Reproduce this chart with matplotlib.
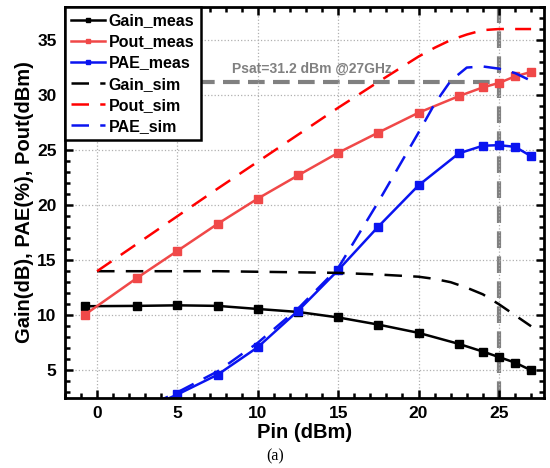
import matplotlib
matplotlib.use("Agg")
import matplotlib.pyplot as plt
from matplotlib.ticker import MultipleLocator

plt.rcParams["font.family"] = ["Liberation Sans", "DejaVu Sans"]
plt.rcParams["font.weight"] = "bold"

# measured data
pin_meas = [-0.75, 2.5, 5, 7.5, 10, 12.5, 15, 17.5, 20, 22.5, 24, 25, 26, 27]
gain_meas = [10.82, 10.85, 10.9, 10.85, 10.57, 10.3, 9.8, 9.15, 8.4, 7.4, 6.7, 6.2, 5.7, 5.0]
pout_meas = [10.06, 13.4, 15.85, 18.3, 20.6, 22.7, 24.76, 26.6, 28.4, 29.9, 30.7, 31.1, 31.7, 32.1]
pae_meas = [0.3, 1.2, 2.8, 4.6, 7.1, 10.4, 14.1, 18.06, 21.8, 24.7, 25.4, 25.45, 25.3, 24.45]

# simulated data
pin_sim = [0, 2.5, 5, 7.5, 10, 12.5, 15, 17.5, 20, 21, 22, 23, 24, 25, 26, 27]
gain_sim = [14.0, 14.0, 14.0, 14.0, 13.95, 13.9, 13.85, 13.7, 13.5, 13.3, 13.0, 12.5, 11.9, 11.0, 10.0, 9.0]
pout_sim = [14.0, 16.5, 19.0, 21.5, 23.95, 26.4, 28.85, 31.2, 33.5, 34.3, 35.0, 35.5, 35.9, 36.0, 36.0, 36.0]
pae_sim = [0.5, 1.3, 3.0, 4.9, 7.5, 10.6, 14.3, 20.3, 26.6, 29.2, 31.3, 32.5, 32.6, 32.4, 32.0, 31.3]

psat = 31.2
psat_pin = 25

fig = plt.figure(figsize=(5.5, 4.68), dpi=100)
ax = fig.add_axes([0.118, 0.15, 0.871, 0.835])

dash = (0, (7, 4.5))
ax.plot(pin_meas, gain_meas, color="black", marker="s", ms=6, lw=1.8, label="Gain_meas")
ax.plot(pin_meas, pout_meas, color="#f04848", marker="s", ms=6, lw=1.8, label="Pout_meas")
ax.plot(pin_meas, pae_meas, color="#0a14f0", marker="s", ms=6, lw=1.8, label="PAE_meas")
ax.plot(pin_sim, gain_sim, color="black", ls=dash, lw=1.8, label="Gain_sim")
ax.plot(pin_sim, pout_sim, color="#ff0000", ls=dash, lw=1.8, label="Pout_sim")
ax.plot(pin_sim, pae_sim, color="#0a14f0", ls=dash, lw=1.8, label="PAE_sim")

# Psat markers
ax.plot([6.3, psat_pin], [psat, psat], color="#808080", ls=(0, (4, 2)), lw=3, zorder=1)
ax.axvline(psat_pin, color="#808080", ls=(0, (4, 2)), lw=3, zorder=1)
ax.text(8.4, 32.4, "Psat=31.2 dBm @27GHz", color="#808080", fontsize=10,
        fontweight="bold", va="center")

ax.set_xlim(-2, 27.8)
ax.set_ylim(2.5, 38)
ax.xaxis.set_major_locator(MultipleLocator(5))
ax.xaxis.set_minor_locator(MultipleLocator(1))
ax.yaxis.set_major_locator(MultipleLocator(5))
ax.yaxis.set_minor_locator(MultipleLocator(1))
ax.tick_params(which="both", direction="in", top=True, right=True, labelsize=12.5, width=1.8, pad=6)
ax.tick_params(which="major", length=6)
ax.tick_params(which="minor", length=3.5)
for s in ax.spines.values():
    s.set_linewidth(2)
ax.grid(True, which="major", color="#b0b0b0", ls=":", lw=0.9)

ax.set_xlabel("Pin (dBm)", fontsize=14.5, fontweight="bold", labelpad=1)
ax.set_ylabel("Gain(dB), PAE(%), Pout(dBm)", fontsize=14.5, fontweight="bold", labelpad=2)

leg = ax.legend(loc="upper left", fontsize=11.5, frameon=True, fancybox=False,
                borderaxespad=0, handlelength=2.1, handletextpad=0.25,
                labelspacing=0.38, borderpad=0.4, markerscale=0.6)
leg.get_frame().set_edgecolor("black")
leg.get_frame().set_linewidth(1.8)
leg.get_frame().set_alpha(1)

fig.text(0.5, 0.025, "(a)", ha="center", va="center", fontsize=11.5,
         family="Liberation Serif", fontweight="normal")

fig.savefig("out.png", dpi=100)
